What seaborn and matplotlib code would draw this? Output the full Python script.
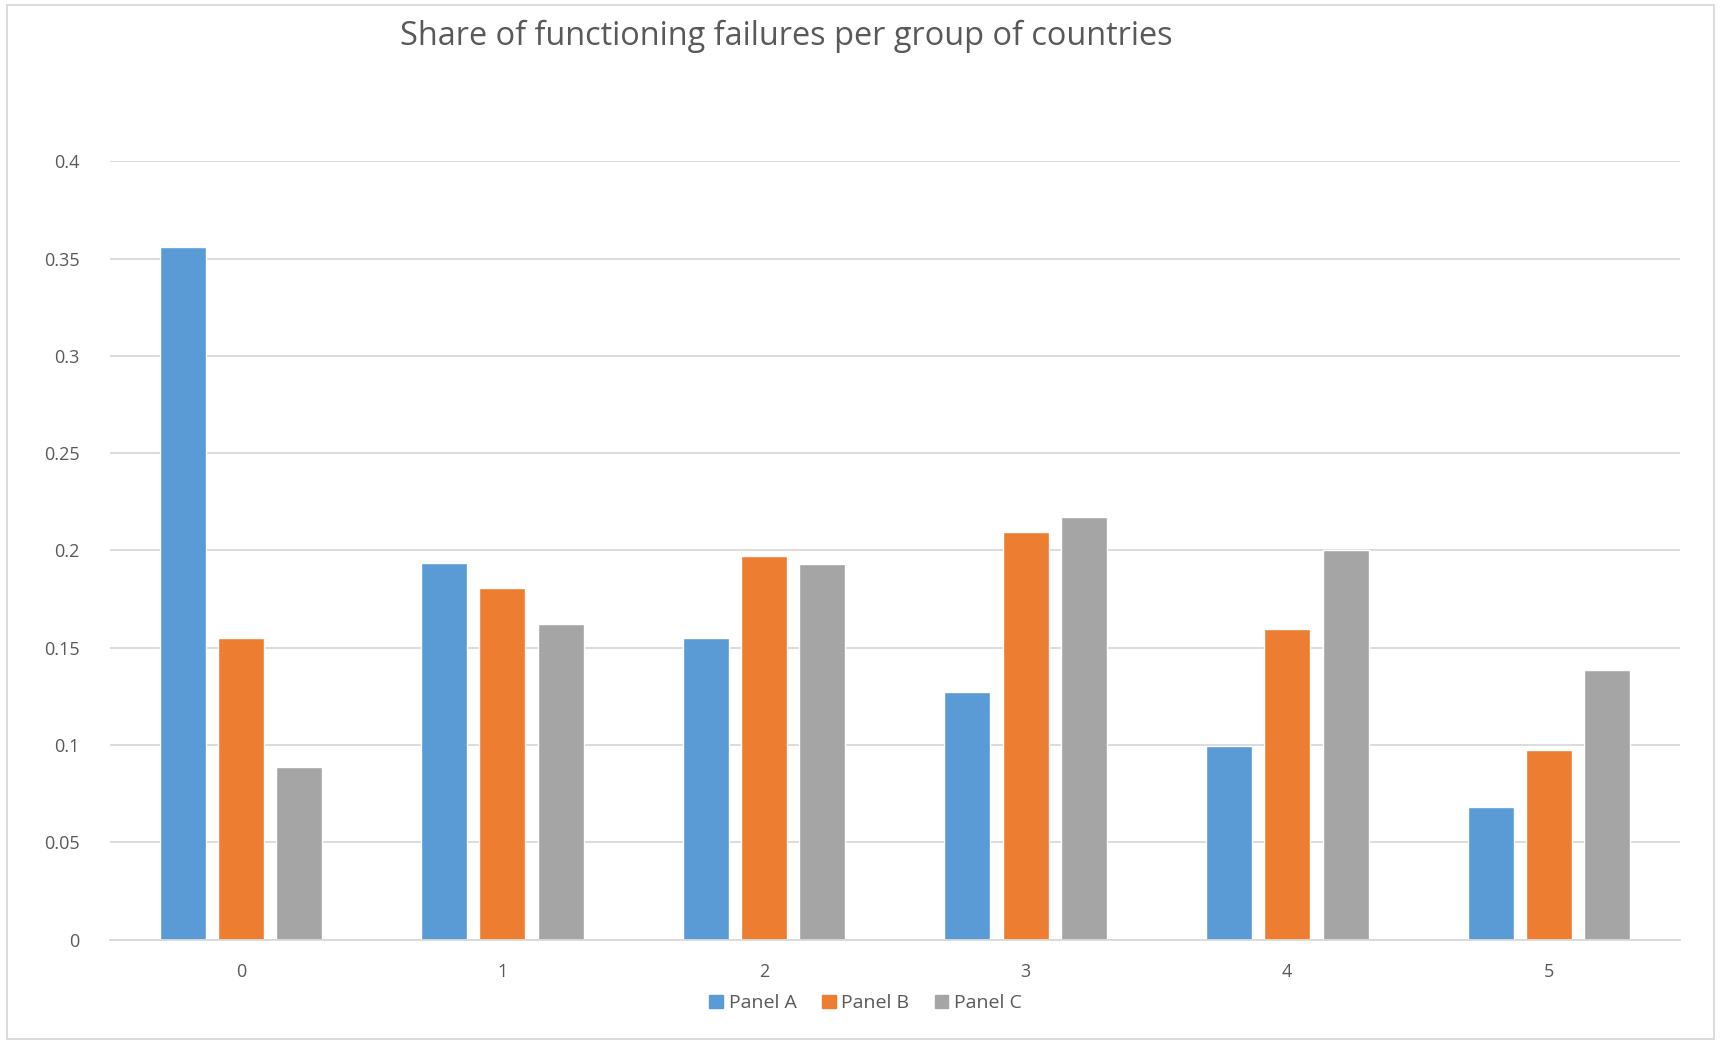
import matplotlib
matplotlib.use("Agg")
import matplotlib.pyplot as plt
import seaborn as sns
import pandas as pd
from matplotlib.patches import Rectangle

categories = ["0", "1", "2", "3", "4", "5"]
panel_a = [0.356, 0.1935, 0.1548, 0.1272, 0.0995, 0.0680]
panel_b = [0.1548, 0.1808, 0.1972, 0.2095, 0.1595, 0.0975]
panel_c = [0.0888, 0.1622, 0.1932, 0.2173, 0.2002, 0.1385]
series_names = ["Panel A", "Panel B", "Panel C"]
colors = ["#5B9BD5", "#ED7D31", "#A5A5A5"]

rows = []
for name, vals in zip(series_names, [panel_a, panel_b, panel_c]):
    for c, v in zip(categories, vals):
        rows.append({"group": c, "panel": name, "value": v})
df = pd.DataFrame(rows)

sns.set_style("white")
plt.rcParams['font.family'] = ['Open Sans', 'DejaVu Sans']

fig = plt.figure(figsize=(17.21, 10.43), dpi=100)
ax = fig.add_axes([0.0639, 0.0991, 0.9121, 0.7462])

sns.barplot(data=df, x="group", y="value", hue="panel", palette=colors,
            width=0.668, gap=0.21, ax=ax, legend=False, saturation=1)

ax.set_ylim(0, 0.4)
ax.set_xlim(-0.5, 5.5)
ax.set_yticks([0, 0.05, 0.1, 0.15, 0.2, 0.25, 0.3, 0.35, 0.4])
ax.set_yticklabels(["0", "0.05", "0.1", "0.15", "0.2", "0.25", "0.3", "0.35", "0.4"])
ax.yaxis.grid(True, color="#D9D9D9", linewidth=1.3)
ax.set_axisbelow(True)
for s in ["left", "right", "top"]:
    ax.spines[s].set_visible(False)
ax.spines["bottom"].set_color("#D9D9D9")
ax.spines["bottom"].set_linewidth(1.3)
ax.tick_params(axis="both", length=0, labelsize=13, colors="#595959")
ax.tick_params(axis="x", pad=17)
ax.tick_params(axis="y", pad=22)
ax.set_xlabel("")
ax.set_ylabel("")

fig.text(0.457, 0.965, "Share of functioning failures per group of countries",
         ha="center", va="center", fontsize=23.4, color="#595959")

handles = [Rectangle((0, 0), 1, 1, color=c) for c in colors]
fig.legend(handles, series_names, loc="center", bbox_to_anchor=(0.503, 0.038),
           ncol=3, frameon=False, fontsize=14, labelcolor="#595959",
           handlelength=0.7, handleheight=0.7, handletextpad=0.3, columnspacing=1.3)

border = Rectangle((0.004, 0.004), 0.992, 0.991, transform=fig.transFigure,
                   fill=False, edgecolor="#D9D9D9", linewidth=1.3)
fig.patches.append(border)

fig.savefig("out.png", dpi=100, facecolor="white")
